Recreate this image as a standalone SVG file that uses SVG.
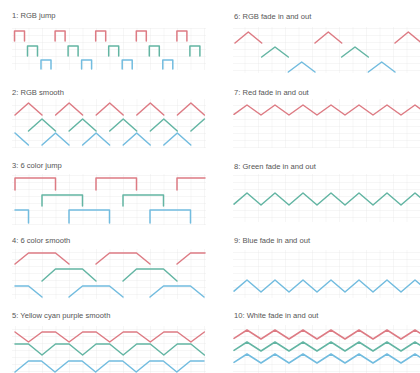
<svg xmlns="http://www.w3.org/2000/svg" width="420" height="373" viewBox="0 0 420 373">
<defs>
<pattern id="grid" x="1.5" y="0" width="13.5" height="7" patternUnits="userSpaceOnUse">
<path d="M0 0V7M0 0H13.5" fill="none" stroke="#e9e9e9" stroke-width="0.8"/>
</pattern>
</defs>
<style>
.bg{fill:#ffffff}
.g{fill:url(#grid)}
.t{font-family:"Liberation Sans","DejaVu Sans",sans-serif;font-size:7.6px;fill:#555}
.w{fill:none;stroke-width:1.5;stroke-linejoin:round;stroke-linecap:round}
.r{stroke:#dd7b84}
.gr{stroke:#63b5a3}
.b{stroke:#72bcdf}
</style>
<rect class="bg" x="0" y="0" width="420" height="373"/>
<g id="grids">
<rect class="g" x="12" y="28" width="194" height="42"/>
<rect class="g" x="12" y="99" width="194" height="49"/>
<rect class="g" x="12" y="174" width="194" height="51"/>
<rect class="g" x="12" y="249" width="194" height="50"/>
<rect class="g" x="12" y="326" width="194" height="47"/>
<rect class="g" x="233" y="27" width="187" height="46"/>
<rect class="g" x="233" y="99" width="187" height="49"/>
<rect class="g" x="233" y="174" width="187" height="48"/>
<rect class="g" x="233" y="250" width="187" height="48"/>
<rect class="g" x="233" y="325" width="187" height="48"/>
</g>
<g id="p1">
<text class="t" x="12" y="18">1: RGB jump</text>
<path class="w r" d="M14.5 41V31H24.5V41M55.1 41V31H65.1V41M95.7 41V31H105.7V41M136.3 41V31H146.3V41M176.9 41V31H186.9V41"/>
<path class="w gr" d="M27.5 56V46H37.5V56M68.1 56V46H78.1V56M108.7 56V46H118.7V56M149.3 56V46H159.3V56M189.9 56V46H199.9V56"/>
<path class="w b" d="M41 69V60H51V69M81.6 69V60H91.6V69M122.2 69V60H132.2V69M162.8 69V60H172.8V69"/>
</g>
<g id="p2">
<text class="t" x="12" y="95">2: RGB smooth</text>
<path class="w r" d="M15 115L28.5 103L42 115M55.6 115L69.1 103L82.6 115M96.2 115L109.7 103L123.2 115M136.8 115L150.3 103L163.8 115M177.4 115L190.9 103L204.4 115"/>
<path class="w gr" d="M28.5 131L42 119L55.5 131M69.1 131L82.6 119L96.1 131M109.7 131L123.2 119L136.7 131M150.3 131L163.8 119L177.3 131M190.9 131L204.4 119"/>
<path class="w b" d="M15 133L28.4 145M42 145L55.5 133L69 145M82.6 145L96.1 133L109.6 145M123.2 145L136.7 133L150.2 145M163.8 145L177.3 133L190.8 145"/>
</g>
<g id="p3">
<text class="t" x="12" y="168">3: 6 color jump</text>
<path class="w r" d="M15 190V178H55.5V190M96 190V178H136.5V190M177 190V178H205"/>
<path class="w gr" d="M42 206V195H82.5V206M123 206V195H163.5V206"/>
<path class="w b" d="M15 210H28.5V223M69 223V210H109.5V223M150 223V210H190.5V223"/>
</g>
<g id="p4">
<text class="t" x="12" y="243">4: 6 color smooth</text>
<path class="w r" d="M15 264L28.5 253H55.5L69 264M96 264L109.5 253H136.5L150 264M177 264L190.5 253H205"/>
<path class="w gr" d="M42 281L55.5 269H82.5L96 281M123 281L136.5 269H163.5L177 281"/>
<path class="w b" d="M15 286H28.5L42 297M69 297L82.5 286H109.5L123 297M150 297L163.5 286H190.5L204 297"/>
</g>
<g id="p5">
<text class="t" x="12" y="318">5: Yellow cyan purple smooth</text>
<path class="w r" d="M15 332L28.5 342L42 332H55.6L69.1 342L82.6 332H96.2L109.7 342L123.2 332H136.8L150.3 342L163.8 332H177.4L190.9 342L204.4 332"/>
<path class="w gr" d="M15 344H28.5L42 355L55.5 344H69.1L82.6 355L96.1 344H109.7L123.2 355L136.7 344H150.3L163.8 355L177.3 344H190.9L204.4 355"/>
<path class="w b" d="M15 372L28.4 361H41.5L55 372L68.5 361H82.1L95.6 372L109.1 361H122.7L136.2 372L149.7 361H163.3L176.8 372L190.3 361H204"/>
</g>
<g id="p6">
<text class="t" x="234" y="19">6: RGB fade in and out</text>
<path class="w r" d="M235 43L248.3 32L261.7 43M315 43L328.3 32L341.7 43M395 43L408.3 32L420 41.7"/>
<path class="w gr" d="M261.7 57L275 47L288.3 57M341.7 57L355 47L368.3 57"/>
<path class="w b" d="M288.3 72L301.7 62L315 72M368.3 72L381.7 62L395 72"/>
</g>
<g id="p7">
<text class="t" x="234" y="95">7: Red fade in and out</text>
<path class="w r" d="M234 114.3L247 105L261 115L275 105L289 115L303 105L317 115L331 105L345 115L359 105L373 115L387 105L401 115L415 105L420 108.6"/>
</g>
<g id="p8">
<text class="t" x="234" y="169">8: Green fade in and out</text>
<path class="w gr" d="M234 204.1L247 193L261 205L275 193L289 205L303 193L317 205L331 193L345 205L359 193L373 205L387 193L401 205L415 193L420 197.3"/>
</g>
<g id="p9">
<text class="t" x="234" y="243">9: Blue fade in and out</text>
<path class="w b" d="M234 291.1L247 280L261 292L275 280L289 292L303 280L317 292L331 280L345 292L359 280L373 292L387 280L401 292L415 280L420 284.3"/>
</g>
<g id="p10">
<text class="t" x="234" y="318">10: White fade in and out</text>
<path class="w r" d="M234 338.4L247 330L261 339L275 330L289 339L303 330L317 339L331 330L345 339L359 330L373 339L387 330L401 339L415 330L420 333.2"/>
<path class="w gr" d="M234 350.4L247 342L261 351L275 342L289 351L303 342L317 351L331 342L345 351L359 342L373 351L387 342L401 351L415 342L420 345.2"/>
<path class="w b" d="M234 362.4L247 354L261 363L275 354L289 363L303 354L317 363L331 354L345 363L359 354L373 363L387 354L401 363L415 354L420 357.2"/>
</g>
</svg>
